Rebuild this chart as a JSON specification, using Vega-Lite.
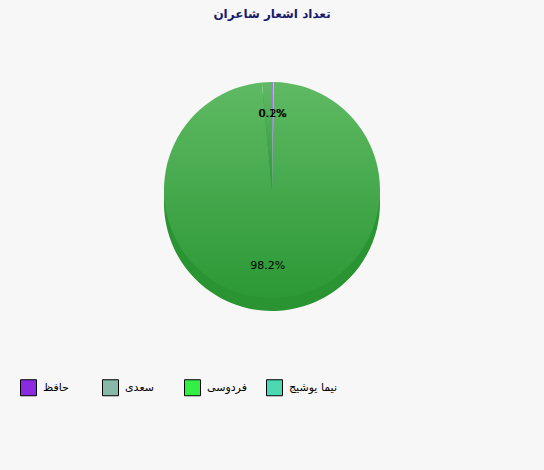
{
  "$schema": "https://vega.github.io/schema/vega-lite/v6.json",
  "width": 544,
  "height": 324,
  "autosize": {"type": "none"},
  "padding": {"top": 28, "left": 0, "right": 0, "bottom": 118},
  "background": "#f7f7f7",
  "title": {
    "text": "تعداد اشعار شاعران",
    "font": "DejaVu Sans",
    "fontSize": 12,
    "fontWeight": "bold",
    "color": "#1a1a6e",
    "anchor": "middle",
    "offset": 7
  },
  "data": {
    "values": [
      {"poet": "حافظ", "share": 0.002},
      {"poet": "سعدی", "share": 0.001},
      {"poet": "فردوسی", "share": 0.982},
      {"poet": "نیما یوشیج", "share": 0.015}
    ]
  },
  "layer": [
    {
      "mark": {"type": "arc", "outerRadius": 108, "yOffset": 13, "color": "#2a9432"},
      "encoding": {
        "theta": {"field": "share", "type": "quantitative", "stack": true}
      }
    },
    {
      "mark": {
        "type": "arc",
        "outerRadius": 108,
        "fill": {"gradient": "linear", "x1": 0, "y1": 0, "x2": 0, "y2": 1, "stops": [{"offset": 0, "color": "#5fba63"}, {"offset": 1, "color": "#2c9836"}]}
      },
      "encoding": {
        "theta": {"field": "share", "type": "quantitative", "stack": true}
      }
    },
    {
      "transform": [{"calculate": "datum.poet", "as": "slice"}],
      "mark": {"type": "arc", "outerRadius": 108},
      "encoding": {
        "theta": {"field": "share", "type": "quantitative", "stack": true},
        "fill": {
          "field": "slice",
          "type": "nominal",
          "scale": {"range": ["#a57be0", "#c8cfe6", "rgba(0,0,0,0)", "rgba(0,0,0,0)"]},
          "legend": null
        }
      }
    },
    {
      "mark": {"type": "arc", "outerRadius": 108, "opacity": 0},
      "encoding": {
        "theta": {"field": "share", "type": "quantitative", "stack": true},
        "color": {
          "field": "poet",
          "type": "nominal",
          "title": null,
          "scale": {"range": ["#8a2be2", "#88b8a8", "#33ee44", "#4cd8b0"]},
          "legend": {
            "orient": "none",
            "legendX": 20,
            "legendY": 351,
            "direction": "horizontal",
            "columns": 4,
            "gridAlign": "all",
            "columnPadding": 9,
            "symbolType": "square",
            "symbolSize": 256,
            "symbolOpacity": 1,
            "symbolStrokeColor": "#000000",
            "symbolStrokeWidth": 1,
            "labelFont": "DejaVu Sans",
            "labelFontSize": 11,
            "labelColor": "#000000",
            "labelOffset": 6
          }
        }
      }
    },
    {
      "mark": {"type": "text", "radius": 76, "font": "DejaVu Sans", "fontSize": 11, "color": "#000000"},
      "encoding": {
        "theta": {"field": "share", "type": "quantitative", "stack": true},
        "text": {
          "condition": {"test": "datum.poet === 'نیما یوشیج'", "value": ""},
          "field": "share",
          "type": "quantitative",
          "format": ".1%"
        }
      }
    }
  ],
  "config": {"view": {"stroke": null}}
}
